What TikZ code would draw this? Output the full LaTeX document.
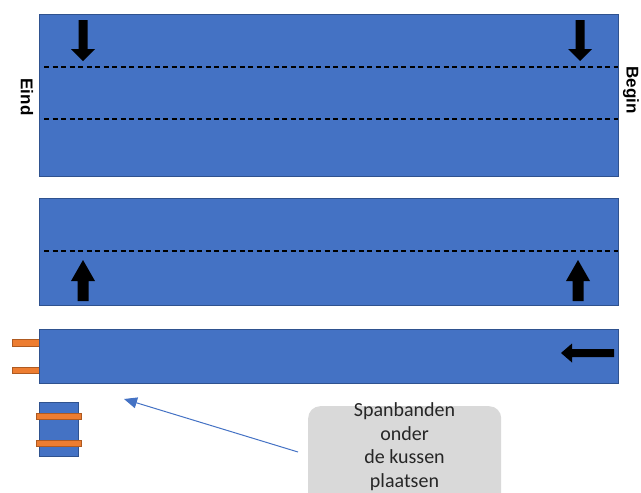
\documentclass[tikz,border=0pt]{standalone}
\usepackage{fontspec}
\setmainfont{Carlito}
\newfontfamily\labelfont{Liberation Sans}
\usetikzlibrary{arrows.meta}
\definecolor{pblue}{HTML}{4472C4}
\definecolor{pblueedge}{HTML}{2F528F}
\definecolor{porange}{HTML}{ED7D31}
\definecolor{porangeedge}{HTML}{AE5A21}
\definecolor{pgray}{HTML}{D9D9D9}
\definecolor{ptext}{HTML}{262626}
\tikzset{
  panel/.style={fill=pblue, draw=pblueedge, line width=0.8pt},
  foldline/.style={draw=black, line width=1.5pt, dash pattern=on 5pt off 3.5pt},
  band/.style={fill=porange, draw=porangeedge, line width=0.8pt},
  sidelabel/.style={font=\labelfont\bfseries\fontsize{17}{20}\selectfont, rotate=-90, inner sep=0pt},
  callout/.style={fill=pgray, rounded corners=12pt, inner sep=0pt},
  calltextstyle/.style={font=\fontsize{20}{23.5}\selectfont, text=ptext, align=center, inner sep=0pt},
  pointer/.style={draw=pblue, line width=1pt, -{Triangle[length=13pt,width=11pt]}},
  darrow/.pic={\fill[black] (0,0) -- (-12,-12) -- (-4.5,-12) -- (-4.5,-41) -- (4.5,-41) -- (4.5,-12) -- (12,-12) -- cycle;},
  uarrow/.pic={\fill[black] (0,0) -- (-12,21) -- (-5.5,21) -- (-5.5,41) -- (5.5,41) -- (5.5,21) -- (12,21) -- cycle;},
  larrow/.pic={\fill[black] (0,0) -- (11,-9.5) -- (11,-4) -- (53,-4) -- (53,4) -- (11,4) -- (11,9.5) -- cycle;}
}
\begin{document}
\begin{tikzpicture}[x=1pt,y=-1pt]
\useasboundingbox (0,0) rectangle (641,493);
\clip (0,0) rectangle (641,493);
% top panel
\draw[panel] (39,14) rectangle (618,176);
\draw[foldline] (44,67) -- (618,67);
\draw[foldline] (44,119) -- (618,119);
\pic at (83,61) {darrow};
\pic at (580,61) {darrow};
\node[sidelabel] (eind) at (27,97) {Eind};
\node[sidelabel] (begin) at (631,90) {Begin};
% middle panel
\draw[panel] (39,198) rectangle (618,305);
\draw[foldline] (44,251) -- (618,251);
\pic at (83,260) {uarrow};
\pic at (578,260) {uarrow};
% bottom panel with tabs
\draw[band] (12,339) rectangle (40,346);
\draw[band] (12,367) rectangle (40,373);
\draw[panel] (39,329) rectangle (618,383);
\pic at (561,353) {larrow};
% small rolled cushion
\draw[panel] (39,402) rectangle (78,456);
\draw[band] (36,413) rectangle (81,419);
\draw[band] (36,440) rectangle (81,446);
% callout
\node[callout, minimum width=193pt, minimum height=104pt, anchor=north west] (callout) at (308,406) {};
\node[calltextstyle] (calltext) at (404.5,446.5) {Spanbanden\\onder\\de kussen\\plaatsen};
\coordinate (ptail) at (298,452);
\coordinate (ptip) at (124,399);
\draw[pointer] (ptail) -- (ptip);
\end{tikzpicture}
\end{document}
